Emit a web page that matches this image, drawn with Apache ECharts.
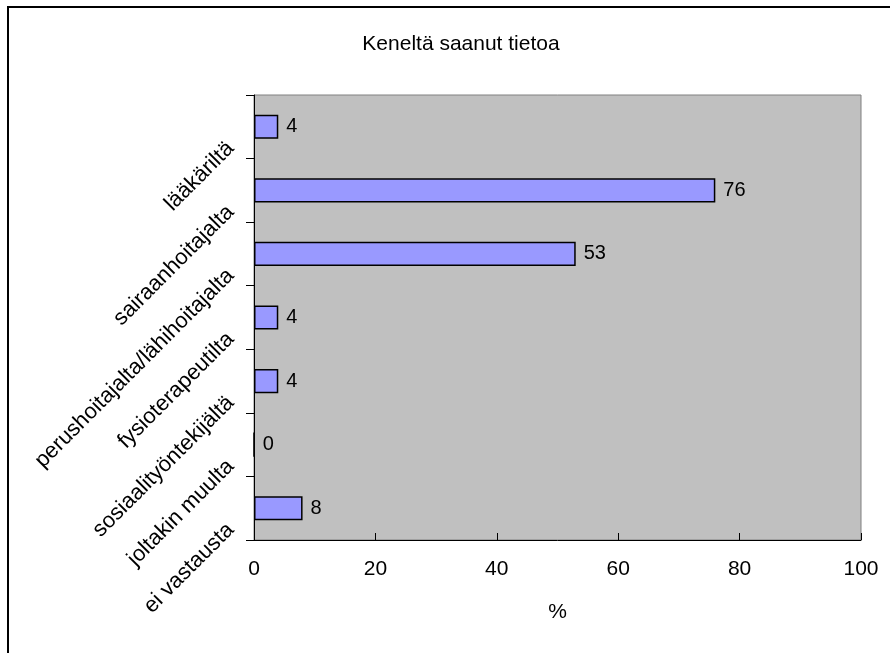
<!DOCTYPE html>
<html>
<head>
<meta charset="utf-8">
<script src="https://cdn.jsdelivr.net/npm/echarts@6/dist/echarts.min.js"></script>
<style>
  html, body { margin: 0; padding: 0; background: #ffffff; }
  #chart { width: 890px; height: 653px; }
</style>
</head>
<body>
<div id="chart"></div>
<script>
// Source categories (top to bottom) and percentage shares
const categories = [
  'lääkäriltä',
  'sairaanhoitajalta',
  'perushoitajalta/lähihoitajalta',
  'fysioterapeutilta',
  'sosiaalityöntekijältä',
  'joltakin muulta',
  'ei vastausta'
];
const shares = [4, 76, 53, 4, 4, 0, 8];
const xTicks = { min: 0, max: 100, step: 20 };

const FONT = '"Liberation Sans", Arial, sans-serif';

const chart = echarts.init(document.getElementById('chart'), null, { renderer: 'canvas' });

chart.setOption({
  animation: false,
  backgroundColor: '#ffffff',
  textStyle: { fontFamily: FONT, color: '#000' },
  title: {
    text: 'Keneltä saanut tietoa',
    left: 456,
    textAlign: 'center',
    top: 29,
    textStyle: { fontFamily: FONT, fontSize: 21, fontWeight: 'normal', color: '#000' }
  },
  graphic: [{
    type: 'rect',
    shape: { x: 8, y: 7, width: 900, height: 700 },
    style: { fill: 'none', stroke: '#000', lineWidth: 2 },
    silent: true,
    z: -1
  }],
  grid: {
    left: 254, right: 29, top: 95, bottom: 113,
    show: true,
    backgroundColor: '#C0C0C0',
    borderColor: '#808080',
    borderWidth: 1
  },
  xAxis: {
    type: 'value',
    min: xTicks.min,
    max: xTicks.max,
    interval: xTicks.step,
    name: '%',
    nameLocation: 'middle',
    nameGap: 62,
    nameTextStyle: { fontFamily: FONT, fontSize: 21, color: '#000' },
    axisLine: { show: true, lineStyle: { color: '#000', width: 1 } },
    axisTick: { show: true, inside: true, length: 7, lineStyle: { color: '#000' } },
    axisLabel: { fontFamily: FONT, fontSize: 21, color: '#000', margin: 19 },
    splitLine: { show: false }
  },
  yAxis: {
    type: 'category',
    data: categories,
    inverse: true,
    axisLine: { show: true, lineStyle: { color: '#000', width: 1 } },
    axisTick: { show: true, length: 8, lineStyle: { color: '#000' } },
    axisLabel: {
      fontFamily: FONT,
      fontSize: 22,
      color: '#000',
      rotate: 45,
      margin: 5,
      // pushes each slanted label down along the axis, below its band centre
      padding: [52, 26, 0, 0]
    },
    splitLine: { show: false }
  },
  series: [{
    type: 'bar',
    data: shares,
    barCategoryGap: '62%',
    itemStyle: { color: '#9999FF', borderColor: '#000', borderWidth: 1.5 },
    label: {
      show: true,
      position: 'right',
      distance: 8,
      fontFamily: FONT,
      fontSize: 20,
      color: '#000'
    }
  }]
});
</script>
</body>
</html>
